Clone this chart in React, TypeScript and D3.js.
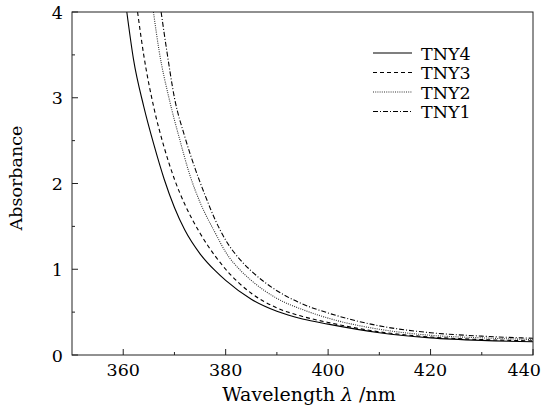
import React from 'react';
import * as d3 from 'd3';

// absorbance spectra, [wavelength nm, absorbance]
const tny4: [number, number][] = [
  [360.7, 4], [362, 3.45], [364, 2.9], [366, 2.45], [368, 2.05], [370, 1.72], [372, 1.46],
  [375, 1.18], [378, 0.98], [380, 0.87], [385, 0.65], [390, 0.51], [395, 0.42], [400, 0.36],
  [410, 0.26], [420, 0.2], [430, 0.17], [440, 0.155]
];
const tny3: [number, number][] = [
  [362.8, 4], [364, 3.5], [366, 2.88], [368, 2.42], [370, 2.05], [372, 1.76], [375, 1.42],
  [378, 1.15], [380, 1.0], [385, 0.72], [390, 0.55], [395, 0.45], [400, 0.38],
  [410, 0.27], [420, 0.21], [430, 0.18], [440, 0.165]
];
const tny2: [number, number][] = [
  [365.9, 4], [367, 3.55], [369, 2.98], [371, 2.52], [373, 2.1], [375, 1.78], [378, 1.42],
  [380, 1.2], [383, 0.98], [385, 0.87], [390, 0.66], [395, 0.53], [400, 0.43],
  [410, 0.3], [420, 0.23], [430, 0.2], [440, 0.18]
];
const tny1: [number, number][] = [
  [367.4, 4], [368.5, 3.55], [370, 3.0], [372, 2.55], [374, 2.18], [376, 1.86], [378, 1.57],
  [380, 1.34], [383, 1.1], [385, 0.98], [390, 0.75], [395, 0.595], [400, 0.49],
  [410, 0.34], [420, 0.26], [430, 0.22], [440, 0.195]
];

const seriesNames = ['TNY4', 'TNY3', 'TNY2', 'TNY1'];
const seriesData = [tny4, tny3, tny2, tny1];
const dashes = ['none', '4,3', '1,1.2', '5,2,1,2'];
const strokes = ['#000', '#000', '#333', '#000'];

const xTicks = [360, 380, 400, 420, 440];
const xMinor = [370, 390, 410, 430];
const yTicks = [0, 1, 2, 3, 4];
const yMinor = [0.5, 1.5, 2.5, 3.5];

const W = 542;
const H = 408;
const m = { left: 72, right: 9, top: 12, bottom: 53 };
const font = '"DejaVu Serif", serif';

export default function App() {
  const x = d3.scaleLinear().domain([350, 440]).range([m.left, W - m.right]);
  const y = d3.scaleLinear().domain([0, 4]).range([H - m.bottom, m.top]);
  const line = d3.line<[number, number]>()
    .x((d) => x(d[0]))
    .y((d) => y(d[1]))
    .curve(d3.curveMonotoneX);

  const x0 = x.range()[0], x1 = x.range()[1];
  const y0 = y.range()[0], y1 = y.range()[1];

  return (
    <svg width={W} height={H} style={{ position: 'absolute', left: 0, top: 0, background: '#fff' }}>
      <defs>
        <clipPath id="plot">
          <rect x={x0} y={y1} width={x1 - x0} height={y0 - y1} />
        </clipPath>
      </defs>

      <g clipPath="url(#plot)">
        {seriesData.map((s, i) => (
          <path key={seriesNames[i]} d={line(s) || ''} fill="none" stroke={strokes[i]}
            strokeWidth={1.1} strokeDasharray={dashes[i]} />
        ))}
      </g>

      {/* frame */}
      <rect x={x0} y={y1} width={x1 - x0} height={y0 - y1} fill="none" stroke="#222" strokeWidth={1} />

      {/* x ticks; last label pulled in so it stays on the page */}
      {xTicks.map((t, i) => {
        const last = i === xTicks.length - 1;
        return (
          <g key={'x' + t}>
            <line x1={x(t)} x2={x(t)} y1={y0} y2={y0 - 6} stroke="#222" />
            <text x={last ? W - 1 : x(t)} y={y0 + 21} textAnchor={last ? 'end' : 'middle'}
              fontFamily={font} fontSize={17.5} fill="#000">{t}</text>
          </g>
        );
      })}
      {xMinor.map((t) => (
        <line key={'xm' + t} x1={x(t)} x2={x(t)} y1={y0} y2={y0 - 3} stroke="#222" />
      ))}

      {/* y ticks */}
      {yTicks.map((t) => (
        <g key={'y' + t}>
          <line x1={x0} x2={x0 + 6} y1={y(t)} y2={y(t)} stroke="#222" />
          <text x={x0 - 9} y={y(t) + 6.5} textAnchor="end" fontFamily={font} fontSize={17.5} fill="#000">{t}</text>
        </g>
      ))}
      {yMinor.map((t) => (
        <line key={'ym' + t} x1={x0} x2={x0 + 3} y1={y(t)} y2={y(t)} stroke="#222" />
      ))}

      {/* axis titles */}
      <text x={309} y={401} textAnchor="middle" fontFamily={font} fontSize={19} fill="#000">
        Wavelength <tspan fontStyle="italic">λ</tspan> /nm
      </text>
      <text transform={`translate(22,178) rotate(-90)`} textAnchor="middle" fontFamily={font} fontSize={17.5} fill="#000">
        Absorbance
      </text>

      {/* legend */}
      {seriesNames.map((n, i) => {
        const ly = 53 + i * 19.5;
        return (
          <g key={'lg' + n}>
            <line x1={373} x2={412} y1={ly} y2={ly} stroke={strokes[i]} strokeWidth={1.1} strokeDasharray={dashes[i]} />
            <text x={421} y={ly + 6.5} fontFamily={font} fontSize={17.5} fill="#000">{n}</text>
          </g>
        );
      })}
    </svg>
  );
}
